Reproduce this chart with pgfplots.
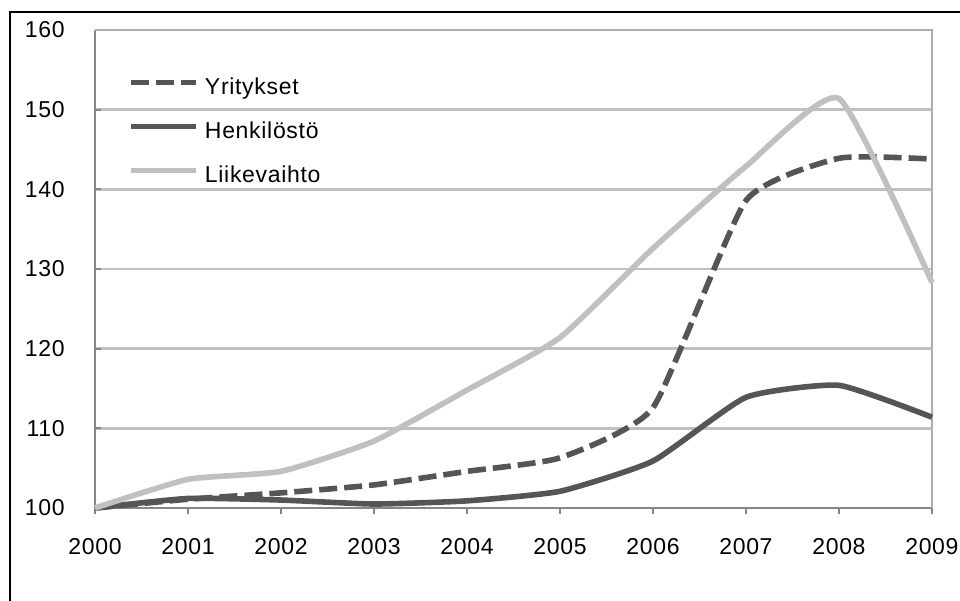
\documentclass[border=0pt]{standalone}
\usepackage{pgfplots}
\pgfplotsset{compat=1.18}
\usepackage{fontspec}
\setmainfont{Liberation Sans}[LetterSpace=3]
\definecolor{dark}{RGB}{85,85,85}
\definecolor{light}{RGB}{192,192,192}
\definecolor{grid}{RGB}{192,192,192}
\definecolor{axisc}{RGB}{134,134,134}
\begin{document}
\begin{tikzpicture}
\useasboundingbox (0,0) rectangle (480bp,-300.5bp);
\draw[line width=1.2bp,black] (5bp,-301bp) -- (5bp,-6bp) -- (481bp,-6bp);
\begin{axis}[
  at={(47.5bp,-254bp)}, anchor=south west,
  scale only axis, width=418.5bp, height=239bp,
  xmin=2000, xmax=2009, ymin=100, ymax=160,
  xtick={2000,...,2009}, ytick={100,110,...,160},
  xticklabel style={/pgf/number format/1000 sep={}},
  /pgf/number format/assume math mode=true,
  font=\fontsize{11.5bp}{13bp}\selectfont,
  ticklabel style={font=\fontsize{11.5bp}{13bp}\selectfont, text=black},
  axis line style={draw=none},
  ymajorgrids, major grid style={draw=grid, line width=1.3bp},
  tick style={draw=axisc, line width=1bp},
  xtick align=outside, ytick align=inside,
  major tick length=3bp,
  xtick pos=bottom, ytick pos=left,
  xticklabel style={anchor=north, inner sep=0pt, yshift=-12bp},
  yticklabel={\pgfmathprintnumber{\tick}\hspace*{15bp}},
  yticklabel style={anchor=east, inner sep=0pt},
  legend cell align=left,
  legend style={draw=none, fill=none, inner sep=0pt,
    at={(axis description cs:0.0394,0.8996)}, anchor=north west,
    nodes={inner sep=0pt, text height=8bp, text depth=3bp},
    row sep=11bp,
    /tikz/every odd column/.append style={column sep=3bp},
    font=\fontsize{11.5bp}{13bp}\selectfont},
  legend image code/.code={\draw[#1] (0bp,3.5bp) -- (32.5bp,3.5bp);},
  clip=false,
]
% frame lines
\draw[axisc, line width=1bp] (axis cs:2000,160) -- (axis cs:2000,100) -- (axis cs:2009,100);
\draw[light!90!black, line width=1bp] (axis cs:2000,160) -- (axis cs:2009,160) -- (axis cs:2009,100);
\addplot[dark, line width=2.8bp, dash pattern=on 9bp off 3.5bp, smooth, tension=0.3] coordinates {
(2000,100) (2001,101.1) (2002,101.9) (2003,102.9) (2004,104.6) (2005,106.3) (2006,112.6) (2007,138.6) (2008,143.9) (2009,143.8)};
\addlegendentry{Yritykset}
\addplot[dark, line width=2.8bp, smooth, tension=0.3] coordinates {
(2000,100) (2001,101.2) (2002,101.0) (2003,100.5) (2004,100.9) (2005,102.1) (2006,105.9) (2007,113.9) (2008,115.4) (2009,111.4)};
\addlegendentry{Henkilöstö}
\addplot[light, line width=2.8bp, smooth, tension=0.3] coordinates {
(2000,100) (2001,103.6) (2002,104.6) (2003,108.4) (2004,114.8) (2005,121.4) (2006,132.6) (2007,142.9) (2008,151.4) (2009,128.3)};
\addlegendentry{Liikevaihto}
\end{axis}
\end{tikzpicture}
\end{document}
